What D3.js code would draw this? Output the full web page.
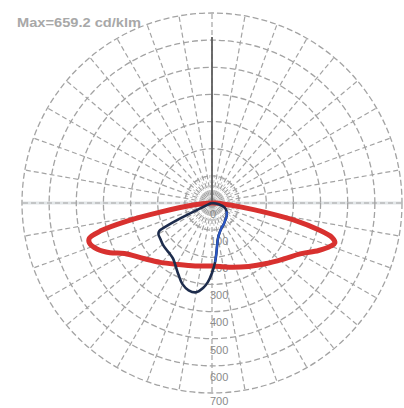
<!DOCTYPE html>
<html><head><meta charset="utf-8">
<script src="https://cdn.jsdelivr.net/npm/d3@7/dist/d3.min.js"></script>
<style>html,body{margin:0;padding:0;background:#fff;}svg{display:block;}</style>
</head><body><div id="chart"></div>
<script>
// ---- data ----
const maxLabel = "Max=659.2 cd/klm";
const radialTicks = [100, 200, 300, 400, 500, 600, 700];
const tickLabels = ["0", "100", "200", "300", "400", "500", "600", "700"];
const tickLabelValues = [0, 100, 200, 300, 400, 500, 600, 700];
// gamma angle (deg) from nadir: negative = left half (C180 / C270), positive = right half (C0 / C90)
const redAngles = [-90,-88,-84,-80,-78,-76,-74,-72,-68,-64,-60,-51,-41,-29.5,-15,0,15,30,42,52,60,66,70,72,74,76,78,80,82,85,88,90];
const redValues = [0,15,70,194,320,420,470,475,455,418,372,325,290,260,240,232,245,270,300,335,375,430,465,476,460,400,320,200,110,40,10,0];
const blueAngles = [-90,-80,-70,-67,-65,-64,-63,-62,-60,-55,-50,-45,-40,-35,-30,-25,-20,-15,-10,-6,-3,0,3,5,7,10,15,20,30,40,50,60,70,80,90];
const blueValues = [0,4,12,25,60,130,190,220,228,232,237,240,243,250,268,292,318,333,334,315,292,258,218,185,156,130,111,100,88,78,71,62,50,25,0];

// ---- layout ----
const W = 404, H = 408, cx = 212, cy = 203;
const svg = d3.select("#chart").append("svg").attr("width", W).attr("height", H);
const r = d3.scaleLinear().domain([0, 700]).range([0, 190]);
const toA = d => Math.PI - d * Math.PI / 180;
const g = svg.append("g").attr("transform", `translate(${cx},${cy})`);

// light horizontal axis
g.append("line").attr("x1", -r(700)).attr("x2", r(700)).attr("y1", 0).attr("y2", 0)
  .attr("stroke", "#e2e6e8").attr("stroke-width", 3);

// radial grid lines
const gridColor = "#a3a3a3";
d3.range(0, 360, 10).forEach(a => {
  const t = a * Math.PI / 180;
  g.append("line").attr("x1", 0).attr("y1", 0)
    .attr("x2", r(700) * Math.sin(t)).attr("y2", -r(700) * Math.cos(t))
    .attr("stroke", gridColor).attr("stroke-width", 1.2).attr("stroke-dasharray", "5,3");
});
d3.range(5, 360, 10).forEach(a => {
  const t = a * Math.PI / 180;
  g.append("line").attr("x1", 0).attr("y1", 0)
    .attr("x2", r(105) * Math.sin(t)).attr("y2", -r(105) * Math.cos(t))
    .attr("stroke", "#b8b8b8").attr("stroke-width", 0.8).attr("stroke-dasharray", "3,2");
});
// circles
g.selectAll("circle.grid").data(radialTicks).enter().append("circle")
  .attr("r", d => r(d)).attr("fill", "none")
  .attr("stroke", gridColor).attr("stroke-width", 1.3).attr("stroke-dasharray", "6,3");

// upper solid vertical axis
g.append("line").attr("x1", 0).attr("x2", 0).attr("y1", 0).attr("y2", -r(612))
  .attr("stroke", "#5e5e5e").attr("stroke-width", 1.8);

// tick labels
g.selectAll("text.tl").data(tickLabels).enter().append("text")
  .attr("x", -2).attr("y", (d, i) => Math.min(r(tickLabelValues[i]) + 12, H - cy - 6))
  .attr("dominant-baseline", "middle")
  .attr("font-family", "Liberation Sans, Arial, sans-serif").attr("font-size", 11)
  .attr("fill", "#8a8a8a").text(d => d);

// curves
const line = d3.lineRadial().curve(d3.curveCatmullRom.alpha(0.5));
const redPts = redAngles.map((a, i) => [toA(a), r(redValues[i])]);
g.append("path").attr("d", line(redPts)).attr("fill", "none")
  .attr("stroke", "#d8312f").attr("stroke-width", 5).attr("stroke-linejoin", "round");

const bluePts = blueAngles.map((a, i) => [toA(a), r(blueValues[i])]);
g.append("path").attr("d", line(bluePts)).attr("fill", "none")
  .attr("stroke", "#1d2c4c").attr("stroke-width", 2.6).attr("stroke-linejoin", "round");
const brightIdx = blueAngles.map((a, i) => i).filter(i => blueAngles[i] >= 3 && blueAngles[i] <= 60);
g.append("path").attr("d", line(brightIdx.map(i => bluePts[i]))).attr("fill", "none")
  .attr("stroke", "#2a56c4").attr("stroke-width", 2.2);

// max label
svg.append("text").attr("x", 17).attr("y", 24).attr("dominant-baseline", "middle")
  .attr("font-family", "Liberation Sans, Arial, sans-serif").attr("font-size", 12)
  .attr("font-weight", "bold").attr("fill", "#a8a8a8")
  .attr("textLength", 124).attr("lengthAdjust", "spacingAndGlyphs").text(maxLabel);
</script></body></html>
